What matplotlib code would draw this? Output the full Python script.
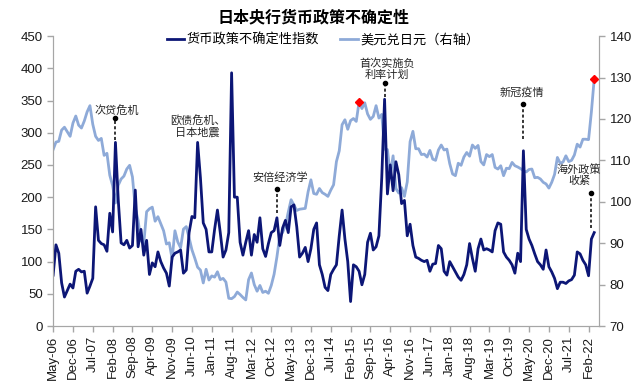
import numpy as np
import matplotlib
matplotlib.use("Agg")
import matplotlib.pyplot as plt

plt.rcParams['font.family'] = ['Liberation Sans', 'Noto Sans CJK SC', 'DejaVu Sans']

# ------------------------------ DATA ---------------------------------------
# monthly, May-06 .. Apr-22 (192 points)
uncertainty = [
    79, 126, 113, 67, 45, 55, 65, 59, 85, 88, 84, 85, 51, 62, 74,
    185, 133, 128, 126, 116, 175, 146, 285, 195, 129, 126, 133, 121, 125, 211, 123, 150, 110,
    133, 80, 98, 92, 115, 100, 90, 82, 62, 107, 113, 115, 118, 82, 87, 145, 170, 168,
    285, 230, 160, 150, 115, 115, 150, 180, 145, 107, 118, 145, 393, 200,
    200, 130, 110, 130, 148, 110, 142, 130, 168, 120, 108, 128, 145, 148, 168, 125,
    152, 164, 145, 185, 188, 154, 107, 113, 122, 100, 120, 150, 160, 95, 80,
    60, 55, 80, 88, 95, 140, 180, 135, 100, 38, 95, 92, 85, 64, 80, 130,
    144, 118, 123, 140, 230, 352, 205, 250, 210, 255, 235, 190, 195, 140, 158, 125,
    107, 105, 102, 100, 102, 85, 96, 97, 125, 120, 85, 79, 100, 92, 84, 76,
    71, 80, 95, 128, 105, 85, 120, 135, 118, 120, 118, 115, 148, 160, 158, 115,
    107, 102, 95, 82, 113, 100, 272, 150, 135, 125, 112, 100, 95, 88, 118, 92,
    84, 74, 58, 68, 68, 66, 70, 72, 79, 115, 112, 102, 95, 78, 135, 145,
]

usdjpy = [
    112.6, 114.4, 114.6, 117.3, 118.0, 116.9, 115.8, 119.0,                          # 2006
    120.7, 118.5, 117.8, 119.5, 121.7, 123.2, 118.7, 115.8, 114.8, 115.3, 111.2, 111.7,  # 2007
    106.4, 103.9, 99.7, 104.0, 105.5, 106.2, 107.9, 108.8, 106.0, 98.5, 95.5, 90.6,      # 2008
    89.9, 97.6, 98.3, 98.7, 95.3, 96.4, 94.7, 93.0, 89.8, 90.1, 86.2, 93.0,              # 2009
    90.3, 88.9, 93.4, 94.0, 91.3, 88.4, 86.4, 84.2, 83.5, 80.4, 83.7, 81.1,              # 2010
    82.1, 81.8, 83.1, 81.2, 81.5, 80.6, 76.7, 76.6, 77.1, 78.2, 77.6, 76.9,              # 2011
    76.3, 81.2, 82.8, 80.0, 78.4, 79.8, 78.1, 78.4, 77.9, 79.8, 82.5, 86.7,              # 2012
    91.7, 92.6, 94.2, 97.5, 100.5, 99.2, 97.9, 98.2, 98.3, 98.4, 102.4, 105.3,           # 2013
    102.0, 101.8, 103.2, 102.2, 101.8, 101.3, 102.8, 104.1, 109.7, 112.3, 118.6, 119.8,  # 2014
    117.5, 119.6, 120.1, 119.4, 124.1, 122.5, 123.9, 121.2, 119.9, 120.6, 123.2, 120.2,  # 2015
    121.1, 112.7, 112.6, 106.5, 111.1, 103.2, 102.1, 103.4, 101.3, 104.8, 114.5, 117.0,  # 2016
    112.8, 112.8, 111.4, 111.5, 110.8, 112.4, 110.3, 110.0, 112.5, 113.7, 112.5, 112.7,  # 2017
    109.2, 106.7, 106.3, 109.3, 108.8, 110.8, 111.9, 111.0, 113.7, 112.9, 113.6, 109.7,  # 2018
    108.9, 111.4, 110.9, 111.4, 108.3, 107.9, 108.7, 106.3, 108.1, 108.0, 109.5, 108.7,  # 2019
    108.4, 108.0, 107.5, 107.2, 107.8, 107.9, 105.8, 105.9, 105.5, 104.7, 104.3, 103.3,  # 2020
    104.7, 106.6, 110.7, 109.3, 109.6, 111.1, 109.7, 110.0, 111.3, 113.9, 113.2, 115.1,  # 2021
    115.1, 115.0, 121.7, 129.7,                                                          # 2022
]

tick_labels = ["May-06", "Dec-06", "Jul-07", "Feb-08", "Sep-08", "Apr-09", "Nov-09",
               "Jun-10", "Jan-11", "Aug-11", "Mar-12", "Oct-12", "May-13", "Dec-13",
               "Jul-14", "Feb-15", "Sep-15", "Apr-16", "Nov-16", "Jun-17", "Jan-18",
               "Aug-18", "Mar-19", "Oct-19", "May-20", "Dec-20", "Jul-21", "Feb-22"]

highlight_idx = [108, 191]   # May-15, Apr-22

# (text, text x, text y, arrow x, arrow top, arrow bottom)
events = [
    ("次贷危机",             22.6, 335, 22, 323, 289),
    ("欧债危机、\n日本地震",  51.0, 310, None, None, None),
    ("安倍经济学",           80.0, 230, 79, 213, 175),
    ("首次实施负\n利率计划",  118.0, 399, 117, 377, 356),
    ("新冠疫情",             165.5, 362, 166, 345, 290),
    ("海外政策\n收紧",        185.7, 234, 190, 207, 152),
]
# ---------------------------------------------------------------------------

x = np.arange(len(uncertainty))
DARK = "#0c1676"
LIGHT = "#8eaad8"
GRAY = "#a6a6a6"

fig = plt.figure(figsize=(6.4, 3.84), dpi=100)
ax = fig.add_axes([0.083, 0.151, 0.853, 0.755])
ax2 = ax.twinx()
ax.set_zorder(ax2.get_zorder() + 1)
ax.patch.set_visible(False)

ax2.plot(x, usdjpy, color=LIGHT, lw=2.0, label="美元兑日元（右轴）")
ax2.plot(highlight_idx, [usdjpy[i] for i in highlight_idx], ls="none",
         marker="D", ms=4, color="#ff0000")
ax.plot(x, uncertainty, color=DARK, lw=2.0, label="货币政策不确定性指数")

ax.set_xlim(0, 192.7)
ax.set_ylim(0, 450)
ax.set_yticks(range(0, 451, 50))
ax2.set_ylim(70, 140)
ax2.set_yticks(range(70, 141, 10))
ax.set_xticks(np.arange(0, 7 * len(tick_labels), 7))
ax.set_xticklabels(tick_labels, rotation=90)

for a in (ax, ax2):
    for s in a.spines.values():
        s.set_color(GRAY)
    a.spines["top"].set_visible(False)
    a.tick_params(colors=GRAY, labelcolor="#1a1a1a", labelsize=9.5, length=4, width=1)
ax.tick_params(axis="x", pad=3)

for text, tx, ty, axx, top, bot in events:
    ax.text(tx, ty, text, ha="center", va="center", fontsize=8, style="italic",
            color="#262626", family=["Noto Sans CJK SC", "DejaVu Sans"], linespacing=1.1)
    if axx is not None:
        ax.plot([axx, axx], [bot, top], color="black", lw=1.1, ls=(0, (2, 1.5)))
        ax.plot(axx, top, marker="o", ms=3, color="black")

h1, l1 = ax.get_legend_handles_labels()
h2, l2 = ax2.get_legend_handles_labels()
fig.legend(h1 + h2, l1 + l2, loc="center", bbox_to_anchor=(0.505, 0.895), ncol=2,
           frameon=False, fontsize=9.5, handlelength=1.3, handletextpad=0.2,
           columnspacing=1.6, prop={"family": ["Noto Sans CJK SC"], "size": 9.5})

fig.text(0.49, 0.955, "日本央行货币政策不确定性", ha="center", va="center",
         fontsize=11.5, fontweight="bold", family=["Noto Sans CJK SC"])

fig.savefig("out.png", dpi=100)
